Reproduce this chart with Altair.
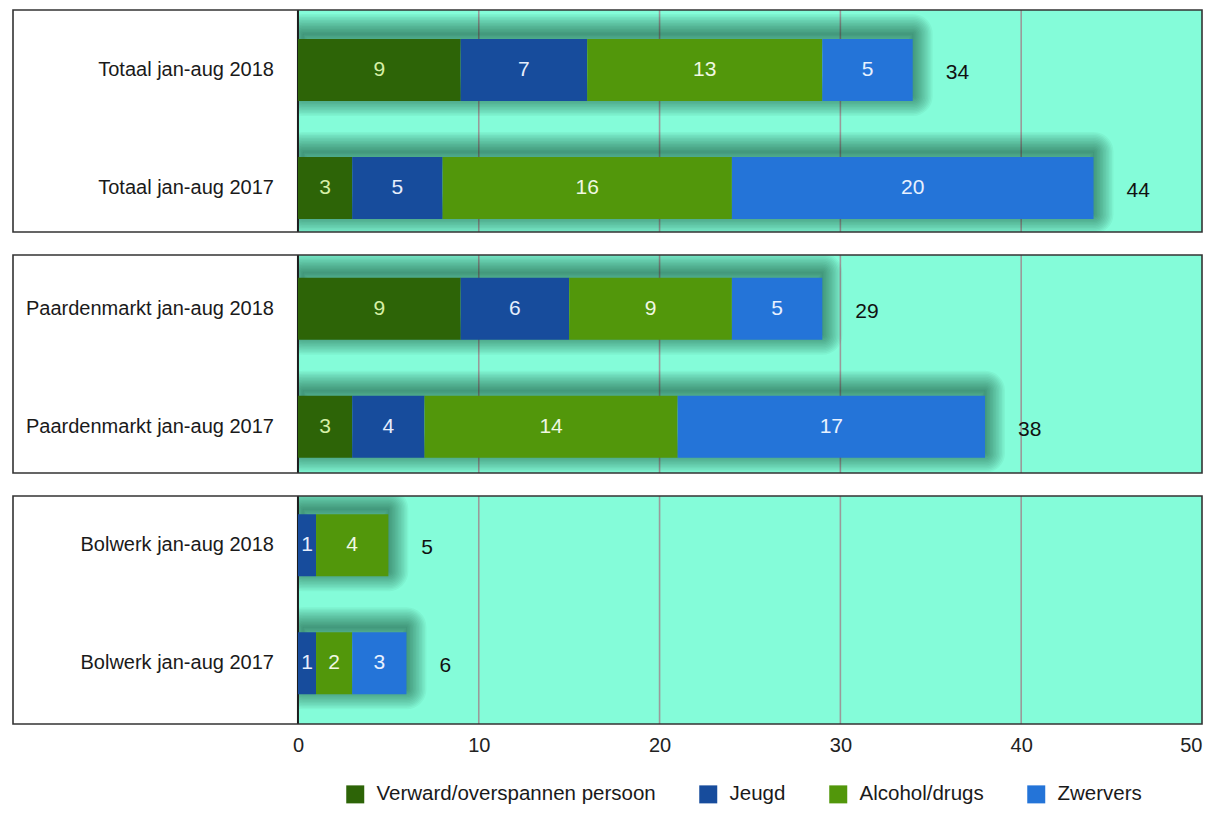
import altair as alt
import pandas as pd

# ---------------- data ----------------
rows = ["Totaal jan-aug 2018", "Totaal jan-aug 2017",
        "Paardenmarkt jan-aug 2018", "Paardenmarkt jan-aug 2017",
        "Bolwerk jan-aug 2018", "Bolwerk jan-aug 2017"]
groups = ["Totaal", "Totaal", "Paardenmarkt", "Paardenmarkt", "Bolwerk", "Bolwerk"]
categories = ["Verward/overspannen persoon", "Jeugd", "Alcohol/drugs", "Zwervers"]
verward = [9, 3, 9, 3, 0, 0]
jeugd = [7, 5, 6, 4, 1, 1]
alcohol = [13, 16, 9, 14, 4, 2]
zwervers = [5, 20, 5, 17, 0, 3]
x_ticks = [0, 10, 20, 30, 40, 50]

# ---------------- styles ----------------
bar_colors = ["#2d6407", "#174c9c", "#52970b", "#2474d8"]
text_colors = ["#d6f0a6", "#e6eefc", "#f0f8e2", "#e8f1ff"]
BG = "#84fcd9"
FONT = "Liberation Sans"
W = 1189
X_MIN = -15.76
panel_heights = {"Totaal": 222, "Paardenmarkt": 218, "Bolwerk": 228}
panel_align = {"Totaal": 0.69, "Paardenmarkt": 0.6, "Bolwerk": 0.38}
STEP = 118.0
P_IN = 56 / 118.0

series = [verward, jeugd, alcohol, zwervers]
recs = []
for i, r in enumerate(rows):
    for j, c in enumerate(categories):
        recs.append({"row": r, "group": groups[i], "cat": c, "catidx": j,
                     "value": series[j][i], "tcolor": text_colors[j]})
long_df = pd.DataFrame(recs)
tot_df = pd.DataFrame({"row": rows, "group": groups,
                       "total": [sum(s[i] for s in series) for i in range(len(rows))],
                       "zero": [x_ticks[0]] * len(rows),
                       "xmin": [X_MIN] * len(rows),
                       "xmax": [x_ticks[-1]] * len(rows)})
grid_df = pd.DataFrame({"g": x_ticks[1:-1]})

xs = alt.Scale(domain=[X_MIN, x_ticks[-1]], nice=False, zero=False)
color_scale = alt.Scale(domain=categories, range=bar_colors)
legend = alt.Legend(title=None, orient="none", legendX=332, legendY=774,
                    direction="horizontal", columns=4)


def panel(g, show_axis):
    H = panel_heights[g]
    po = (H / STEP - 2 + P_IN) / 2
    ax = (alt.Axis(values=x_ticks, grid=False, domain=False, ticks=False,
                   labelFontSize=20, labelPadding=11, labelColor="#222",
                   labelFont=FONT, title=None)
          if show_axis else None)
    grows = [r for r, gg in zip(rows, groups) if gg == g]
    ys = alt.Scale(domain=grows, paddingInner=P_IN, paddingOuter=po, align=panel_align[g])
    yenc = alt.Y("row:N", scale=ys, axis=None, sort=grows, title=None)

    def X(field):
        return alt.X(field, type="quantitative", scale=xs, axis=ax, title=None)

    ld = long_df[long_df.group == g]
    td = tot_df[tot_df.group == g]
    one = td.head(1)

    bg = alt.Chart(one).mark_rect(color=BG).encode(
        x=X("zero"), x2="xmax:Q")
    grid = alt.Chart(grid_df).mark_rule(color="#9a9a9a", strokeWidth=1.6).encode(
        x=X("g"))

    shadows = []
    for sw in range(40, 0, -3):
        shadows.append(
            alt.Chart(td).mark_bar(fill="black", fillOpacity=0.0, stroke="#0a2a20",
                                   strokeWidth=sw, strokeOpacity=0.045, strokeJoin="round",
                                   xOffset=5, yOffset=-5, clip=True).encode(
                x=X("zero"), x2="total:Q", y=yenc))

    mask = alt.Chart(one).mark_rect(color="white").encode(
        x=X("xmin"), x2="zero:Q")
    zero = alt.Chart(one).mark_rule(color="#1c1c1c", strokeWidth=2).encode(
        x=X("zero"))

    stacked = alt.Chart(ld).transform_stack(
        stack="value", groupby=["row"], as_=["x0", "x1"],
        sort=[alt.SortField("catidx", order="ascending")])
    bars = stacked.mark_bar().encode(
        x=X("x0"), x2="x1:Q", y=yenc,
        color=alt.Color("cat:N", scale=color_scale, sort=categories, legend=legend))
    seg_text = stacked.transform_filter("datum.value > 0").transform_calculate(
        mid="(datum.x0 + datum.x1) / 2").mark_text(
        font=FONT, fontSize=21, baseline="middle").encode(
        x=X("mid"), y=yenc, text="value:Q",
        fill=alt.Fill("tcolor:N", scale=None, legend=None))
    tot_text = alt.Chart(td).mark_text(
        font=FONT, fontSize=21, align="left", baseline="middle", dx=33, dy=3,
        color="#111").encode(x=X("total"), y=yenc, text="total:Q")
    lab_text = alt.Chart(td).mark_text(
        font=FONT, fontSize=20, align="right", baseline="middle", dx=-24,
        color="#1a1a1a").encode(x=X("zero"), y=yenc, text="row:N")
    box = alt.Chart(one).mark_rect(fillOpacity=0, fill="white", stroke="#333",
                                   strokeWidth=1.6).encode(
        x=alt.value(0), x2=alt.value(W), y=alt.value(0), y2=alt.value(H))

    return alt.layer(bg, grid, *shadows, mask, zero, bars, seg_text, tot_text,
                     lab_text, box).properties(width=W, height=H)


chart = alt.vconcat(
    panel("Totaal", False), panel("Paardenmarkt", False), panel("Bolwerk", True),
    spacing=23, bounds="flush",
).properties(
    padding={"left": 4, "top": 1, "right": 6, "bottom": 10}
).configure_view(stroke=None).configure_legend(
    symbolType="square", symbolSize=324, symbolStrokeWidth=0, labelFont=FONT,
    labelFontSize=20.5, labelColor="#1a1a1a", labelOffset=11, columnPadding=42,
    padding=0, symbolOpacity=1, labelLimit=400,
)

chart.save("out.html", embed_options={"renderer": "svg", "actions": False})
